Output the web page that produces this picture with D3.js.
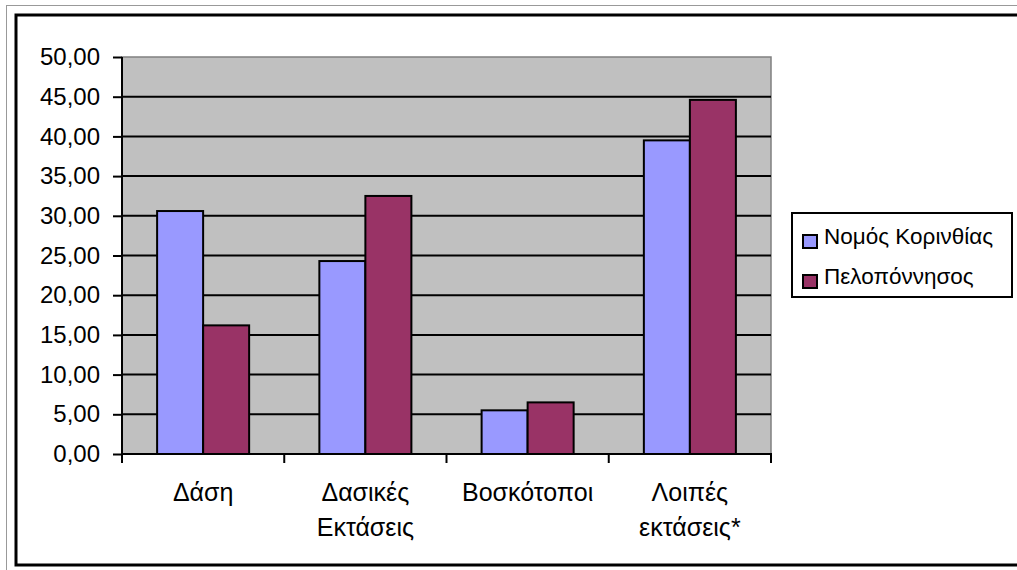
<!DOCTYPE html>
<html>
<head>
<meta charset="utf-8">
<script src="https://cdn.jsdelivr.net/npm/d3@7"></script>
<style>
  html, body { margin: 0; padding: 0; background: #fff; }
  svg { display: block; font-family: "Liberation Sans", Arial, sans-serif; }
</style>
</head>
<body>
<svg id="chart" width="1017" height="570"></svg>
<script>
const categories = [["Δάση"], ["Δασικές", "Εκτάσεις"], ["Βοσκότοποι"], ["Λοιπές", "εκτάσεις*"]];
const seriesNames = ["Νομός Κορινθίας", "Πελοπόννησος"];
const korinthia = [30.6, 24.3, 5.5, 39.5];
const peloponnisos = [16.2, 32.5, 6.5, 44.6];
const seriesColors = ["#9999FF", "#993366"];
const yTicks = [0, 5, 10, 15, 20, 25, 30, 35, 40, 45, 50];

const svg = d3.select("#chart");

// outer frames
svg.append("rect").attr("x", 6.5).attr("y", 5.5).attr("width", 1030).attr("height", 580)
  .attr("fill", "none").attr("stroke", "#999").attr("stroke-width", 1);
svg.append("rect").attr("x", 16).attr("y", 15).attr("width", 1030).attr("height", 550)
  .attr("fill", "#fff").attr("stroke", "#000").attr("stroke-width", 3);

const plot = {left: 122, right: 771, top: 57, bottom: 454};
const catKeys = categories.map(c => c.join(" "));

const x0 = d3.scaleBand().domain(catKeys).range([plot.left, plot.right]).padding(0);
const x1 = d3.scaleBand().domain(seriesNames).range([0, x0.bandwidth()]).paddingInner(0).paddingOuter(0.763);
const y = d3.scaleLinear().domain([0, 50]).range([plot.bottom, plot.top]);

// plot background
svg.append("rect").attr("x", plot.left).attr("y", plot.top)
  .attr("width", plot.right - plot.left).attr("height", plot.bottom - plot.top)
  .attr("fill", "#C0C0C0").attr("stroke", "#808080").attr("stroke-width", 1.5);

// gridlines
svg.append("g").selectAll("line").data(yTicks.filter(d => d > 0 && d < 50)).join("line")
  .attr("x1", plot.left).attr("x2", plot.right)
  .attr("y1", d => y(d)).attr("y2", d => y(d))
  .attr("stroke", "#000").attr("stroke-width", 2);

// bars
const data = catKeys.map((k, i) => ({key: k, vals: [korinthia[i], peloponnisos[i]]}));
const groups = svg.append("g").selectAll("g").data(data).join("g")
  .attr("transform", d => `translate(${x0(d.key)},0)`);
groups.selectAll("rect").data(d => d.vals.map((v, j) => ({name: seriesNames[j], v, j}))).join("rect")
  .attr("x", d => x1(d.name))
  .attr("y", d => y(d.v))
  .attr("width", x1.bandwidth())
  .attr("height", d => y(0) - y(d.v))
  .attr("fill", d => seriesColors[d.j])
  .attr("stroke", "#000").attr("stroke-width", 2);

// y axis
const yAxis = d3.axisLeft(y).tickValues(yTicks).tickSize(9).tickPadding(13)
  .tickFormat(d => d3.format(".2f")(d).replace(".", ","));
const gy = svg.append("g").attr("transform", `translate(${plot.left},0)`).call(yAxis);
gy.select(".domain").attr("stroke", "#000").attr("stroke-width", 2).attr("d", `M0,${plot.top}V${plot.bottom}`);
gy.selectAll(".tick line").attr("stroke", "#000").attr("stroke-width", 2);
gy.selectAll(".tick text").attr("fill", "#000").attr("font-size", 24).attr("font-family", "Liberation Sans, Arial, sans-serif");

// x axis line and boundary ticks
svg.append("line").attr("x1", plot.left - 1).attr("x2", plot.right + 1)
  .attr("y1", plot.bottom).attr("y2", plot.bottom).attr("stroke", "#000").attr("stroke-width", 2);
const bounds = catKeys.map(k => x0(k)).concat([plot.right]);
svg.append("g").selectAll("line").data(bounds).join("line")
  .attr("x1", d => d).attr("x2", d => d)
  .attr("y1", plot.bottom).attr("y2", plot.bottom + 9)
  .attr("stroke", "#000").attr("stroke-width", 2);

// category labels
const lbl = svg.append("g").selectAll("text").data(categories).join("text")
  .attr("x", (d, i) => x0(catKeys[i]) + x0.bandwidth() / 2)
  .attr("y", 501)
  .attr("text-anchor", "middle").attr("font-size", 25).attr("fill", "#000");
lbl.selectAll("tspan").data(d => d).join("tspan")
  .attr("x", function() { return d3.select(this.parentNode).attr("x"); })
  .attr("dy", (d, i) => i === 0 ? 0 : 35)
  .text(d => d);

// legend
const lg = svg.append("g");
lg.append("rect").attr("x", 792).attr("y", 213).attr("width", 220).attr("height", 84)
  .attr("fill", "#fff").attr("stroke", "#000").attr("stroke-width", 2);
const items = lg.selectAll("g").data(seriesNames).join("g")
  .attr("transform", (d, i) => `translate(0,${i * 40})`);
items.append("rect").attr("x", 803).attr("y", 235).attr("width", 14).attr("height", 13)
  .attr("fill", (d, i) => seriesColors[i]).attr("stroke", "#000").attr("stroke-width", 2);
items.append("text").attr("x", 824).attr("y", 244).attr("font-size", 22.5).attr("fill", "#000").text(d => d);
</script>
</body>
</html>
